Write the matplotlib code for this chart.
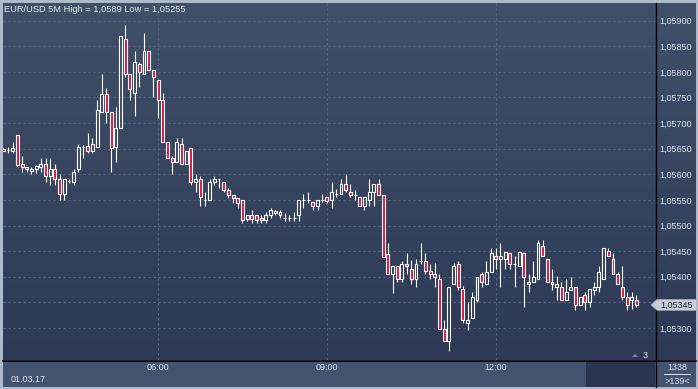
import numpy as np
import pandas as pd
import matplotlib
matplotlib.use("Agg")
import matplotlib.pyplot as plt
from matplotlib.patches import Rectangle, Polygon
from matplotlib.colors import LinearSegmentedColormap

# ---------------- data ----------------
title = "EUR/USD 5M High = 1,0589 Low = 1,05255"
start_time = "2017-03-01 03:15"
date_label = "01.03.17"
bars_label = "1338"
count_label = ">139<"
corner_label = "3"

open_ = [1.05650, 1.05647, 1.05646, 1.05676, 1.05620, 1.05615, 1.05606, 1.05610, 1.05615, 1.05620,
         1.05596, 1.05610, 1.05590, 1.05561, 1.05586, 1.05584, 1.05610, 1.05653, 1.05655, 1.05645,
         1.05654, 1.05721, 1.05756, 1.05721, 1.05654, 1.05690, 1.05865, 1.05795, 1.05759, 1.05815,
         1.05795, 1.05840, 1.05804, 1.05785, 1.05746, 1.05664, 1.05631, 1.05625, 1.05660, 1.05620,
         1.05651, 1.05584, 1.05590, 1.05549, 1.05549, 1.05584, 1.05590, 1.05584, 1.05570, 1.05560,
         1.05554, 1.05550, 1.05513, 1.05520, 1.05520, 1.05515, 1.05510, 1.05520, 1.05529, 1.05520,
         1.05515, 1.05515, 1.05515, 1.05520, 1.05550, 1.05550, 1.05546, 1.05539, 1.05550, 1.05555,
         1.05550, 1.05562, 1.05562, 1.05581, 1.05565, 1.05560, 1.05555, 1.05539, 1.05550, 1.05565,
         1.05581, 1.05560, 1.05444, 1.05406, 1.05420, 1.05395, 1.05425, 1.05415, 1.05395, 1.05430,
         1.05430, 1.05411, 1.05405, 1.05395, 1.05297, 1.05275, 1.05386, 1.05425, 1.05376, 1.05310,
         1.05320, 1.05355, 1.05405, 1.05386, 1.05410, 1.05440, 1.05435, 1.05435, 1.05446, 1.05425,
         1.05420, 1.05446, 1.05386, 1.05390, 1.05395, 1.05460, 1.05435, 1.05390, 1.05379, 1.05379,
         1.05355, 1.05375, 1.05379, 1.05345, 1.05364, 1.05351, 1.05375, 1.05379, 1.05395, 1.05451,
         1.05435, 1.05405, 1.05379, 1.05360, 1.05355, 1.05355]
high = [1.05651, 1.05654, 1.05664, 1.05677, 1.05636, 1.05615, 1.05615, 1.05619, 1.05632, 1.05632,
        1.05632, 1.05620, 1.05601, 1.05590, 1.05590, 1.05611, 1.05660, 1.05657, 1.05680, 1.05670,
        1.05746, 1.05795, 1.05768, 1.05721, 1.05731, 1.05871, 1.05891, 1.05795, 1.05840, 1.05820,
        1.05875, 1.05840, 1.05804, 1.05785, 1.05758, 1.05664, 1.05635, 1.05670, 1.05670, 1.05646,
        1.05651, 1.05601, 1.05596, 1.05565, 1.05590, 1.05596, 1.05590, 1.05584, 1.05574, 1.05560,
        1.05554, 1.05550, 1.05521, 1.05530, 1.05520, 1.05520, 1.05526, 1.05535, 1.05530, 1.05530,
        1.05524, 1.05520, 1.05526, 1.05550, 1.05562, 1.05565, 1.05546, 1.05550, 1.05561, 1.05555,
        1.05584, 1.05571, 1.05590, 1.05600, 1.05581, 1.05570, 1.05555, 1.05555, 1.05590, 1.05581,
        1.05590, 1.05560, 1.05465, 1.05420, 1.05420, 1.05430, 1.05446, 1.05433, 1.05435, 1.05465,
        1.05446, 1.05425, 1.05426, 1.05405, 1.05316, 1.05379, 1.05426, 1.05431, 1.05381, 1.05351,
        1.05370, 1.05400, 1.05410, 1.05431, 1.05456, 1.05456, 1.05466, 1.05449, 1.05446, 1.05440,
        1.05449, 1.05446, 1.05405, 1.05431, 1.05471, 1.05471, 1.05435, 1.05415, 1.05401, 1.05390,
        1.05395, 1.05399, 1.05379, 1.05360, 1.05370, 1.05375, 1.05390, 1.05420, 1.05456, 1.05456,
        1.05446, 1.05410, 1.05420, 1.05371, 1.05371, 1.05364]
low = [1.05645, 1.05641, 1.05642, 1.05615, 1.05605, 1.05605, 1.05601, 1.05603, 1.05605, 1.05584,
       1.05580, 1.05580, 1.05549, 1.05549, 1.05583, 1.05580, 1.05605, 1.05631, 1.05641, 1.05641,
       1.05654, 1.05721, 1.05701, 1.05605, 1.05625, 1.05690, 1.05790, 1.05746, 1.05714, 1.05771,
       1.05795, 1.05804, 1.05750, 1.05710, 1.05664, 1.05631, 1.05600, 1.05625, 1.05620, 1.05620,
       1.05580, 1.05565, 1.05539, 1.05539, 1.05549, 1.05580, 1.05574, 1.05565, 1.05554, 1.05544,
       1.05535, 1.05504, 1.05508, 1.05504, 1.05504, 1.05504, 1.05504, 1.05515, 1.05520, 1.05515,
       1.05509, 1.05509, 1.05509, 1.05509, 1.05535, 1.05544, 1.05530, 1.05530, 1.05546, 1.05544,
       1.05535, 1.05555, 1.05562, 1.05565, 1.05555, 1.05550, 1.05539, 1.05530, 1.05539, 1.05539,
       1.05560, 1.05439, 1.05406, 1.05369, 1.05389, 1.05389, 1.05406, 1.05385, 1.05380, 1.05425,
       1.05406, 1.05395, 1.05379, 1.05297, 1.05275, 1.05255, 1.05386, 1.05375, 1.05310, 1.05296,
       1.05320, 1.05351, 1.05379, 1.05386, 1.05410, 1.05415, 1.05379, 1.05415, 1.05415, 1.05379,
       1.05420, 1.05340, 1.05370, 1.05390, 1.05395, 1.05440, 1.05390, 1.05375, 1.05355, 1.05355,
       1.05355, 1.05375, 1.05335, 1.05345, 1.05335, 1.05340, 1.05364, 1.05370, 1.05395, 1.05440,
       1.05405, 1.05386, 1.05355, 1.05335, 1.05337, 1.05340]
close = [1.05646, 1.05647, 1.05651, 1.05619, 1.05615, 1.05610, 1.05610, 1.05616, 1.05620, 1.05596,
         1.05610, 1.05590, 1.05561, 1.05590, 1.05586, 1.05605, 1.05654, 1.05653, 1.05645, 1.05660,
         1.05725, 1.05756, 1.05721, 1.05651, 1.05690, 1.05871, 1.05795, 1.05766, 1.05820, 1.05800,
         1.05840, 1.05804, 1.05790, 1.05746, 1.05664, 1.05631, 1.05625, 1.05664, 1.05620, 1.05646,
         1.05584, 1.05590, 1.05556, 1.05549, 1.05584, 1.05590, 1.05590, 1.05570, 1.05560, 1.05554,
         1.05544, 1.05510, 1.05520, 1.05513, 1.05510, 1.05510, 1.05520, 1.05530, 1.05525, 1.05526,
         1.05515, 1.05515, 1.05515, 1.05550, 1.05550, 1.05550, 1.05539, 1.05550, 1.05550, 1.05548,
         1.05565, 1.05562, 1.05581, 1.05570, 1.05560, 1.05560, 1.05539, 1.05555, 1.05565, 1.05581,
         1.05560, 1.05439, 1.05406, 1.05420, 1.05395, 1.05425, 1.05420, 1.05395, 1.05425, 1.05430,
         1.05411, 1.05406, 1.05400, 1.05297, 1.05275, 1.05379, 1.05420, 1.05379, 1.05316, 1.05316,
         1.05360, 1.05400, 1.05390, 1.05410, 1.05446, 1.05435, 1.05440, 1.05449, 1.05425, 1.05425,
         1.05449, 1.05399, 1.05390, 1.05399, 1.05466, 1.05440, 1.05390, 1.05386, 1.05386, 1.05355,
         1.05370, 1.05379, 1.05345, 1.05360, 1.05351, 1.05375, 1.05379, 1.05410, 1.05456, 1.05440,
         1.05405, 1.05386, 1.05360, 1.05345, 1.05360, 1.05345]
price_ticks = [1.0530, 1.0535, 1.0540, 1.0545, 1.0550, 1.0555, 1.0560, 1.0565,
               1.0570, 1.0575, 1.0580, 1.0585, 1.0590]
time_tick_labels = ["06:00", "09:00", "12:00"]

# ---------------- style ----------------
W, H = 698, 389
FRAME = "#aeb9ca"
TOP_BG = "#405069"
BOT_BG = "#2d3955"
BAR_BG = "#43526f"
DARK_BOX = "#29344e"
GRID = "#56657f"
RED = "#e3113b"
TXT = "#dfe6f0"
FONT = "Liberation Sans"
FS = 6.5

o = np.array(open_); h = np.array(high); l = np.array(low); c = np.array(close)
n = len(o)
times = pd.date_range(start_time, periods=n, freq="5min")
x = np.arange(n)

fig = plt.figure(figsize=(W / 100, H / 100), dpi=100)
fig.patch.set_facecolor(FRAME)

def rect(x0, y0, x1, y1):
    return [x0 / W, 1 - y1 / H, (x1 - x0) / W, (y1 - y0) / H]

# canvas in pixel coordinates
cv = fig.add_axes([0, 0, 1, 1], zorder=0)
cv.set_xlim(0, W); cv.set_ylim(H, 0); cv.axis("off")
cmap = LinearSegmentedColormap.from_list("bg", [TOP_BG, BOT_BG])
grad = np.linspace(0, 1, 256).reshape(-1, 1)
cv.imshow(grad, cmap=cmap, aspect="auto", extent=(3, 696, 360, 3), origin="upper")
cv.add_patch(Rectangle((3, 361), 693, 26, facecolor=BAR_BG, edgecolor="none"))
cv.add_patch(Rectangle((586, 361), 69, 26, facecolor=DARK_BOX, edgecolor="none"))
cv.plot([3, 696], [360.5, 360.5], color="black", lw=1.2)
cv.plot([655.5, 655.5], [3, 387], color="black", lw=1.0)

# main candle axes
ax = fig.add_axes(rect(3, 3, 655, 360), zorder=1)
ax.patch.set_alpha(0)
step = 4.69
x_left = (3 - 3.3) / step
x_right = (655 - 3.3) / step
ax.set_xlim(x_left, x_right)
pix_per_unit = 25.6 / 0.0005
ax.set_ylim(1.0590 - (360 - 20.7) / pix_per_unit, 1.0590 + (20.7 - 3) / pix_per_unit)
for s in ax.spines.values():
    s.set_visible(False)

# grid
ax.set_yticks(price_ticks)
tick_idx = [i for i, t in enumerate(times) if t.strftime("%H:%M") in time_tick_labels]
ax.set_xticks(tick_idx)
ax.set_xticklabels([])
ax.grid(True, color=GRID, lw=0.8, linestyle=(0, (2, 2.5)))
ax.tick_params(length=0)
ax.yaxis.tick_right()
last = c[-1]
ax.set_yticklabels(["" if abs(p - last) < 0.0002 else f"{p:.5f}".replace(".", ",") for p in price_ticks],
                   fontsize=FS, color=TXT, family=FONT)
ax.tick_params(axis="y", pad=3)

# candles
bw = 0.62
up = c >= o
top = np.maximum(o, c); bot = np.minimum(o, c)
ax.vlines(x, top, h, color="white", lw=0.8, zorder=2)
ax.vlines(x, l, bot, color="white", lw=0.8, zorder=2)
for i in range(n):
    ax.add_patch(Rectangle((x[i] - bw / 2, bot[i]), bw, top[i] - bot[i],
                           facecolor="none" if up[i] else RED,
                           edgecolor="white", lw=0.8, zorder=3))

# overlay texts
ov = fig.add_axes([0, 0, 1, 1], zorder=3)
ov.set_xlim(0, W); ov.set_ylim(H, 0); ov.axis("off"); ov.patch.set_alpha(0)
ov.text(4, 9, title, fontsize=6.7, color="#e6eaf0", va="center", ha="left", family=FONT)
for lab, idx in zip(time_tick_labels, tick_idx):
    ov.text(3.3 + step * idx, 368, lab, fontsize=FS, color=TXT, ha="center", va="center", family=FONT)
ov.text(11, 379, date_label, fontsize=FS, color=TXT, ha="left", va="center", family=FONT)
ov.text(677, 367, bars_label, fontsize=FS, color=TXT, ha="center", va="center", family=FONT)
ov.plot([664, 690], [374, 374], color=TXT, lw=0.7)
ov.text(677, 381, count_label, fontsize=FS, color=TXT, ha="center", va="center", family=FONT)
ov.text(645, 355, corner_label, fontsize=FS, color=TXT, ha="center", va="center", family=FONT)
ov.add_patch(Polygon([(632, 357), (635, 354), (638, 357)], closed=True, facecolor="#7d8aa0", edgecolor="none"))
# last price box
y_last = 20.7 + (1.0590 - last) * pix_per_unit
ov.add_patch(Polygon([(651, y_last), (657, y_last - 5.5), (697, y_last - 5.5), (697, y_last + 5.5), (657, y_last + 5.5)],
                     closed=True, facecolor="#c8cdd6", edgecolor="#9aa3b3", lw=0.5))
ov.text(677, y_last, f"{last:.5f}".replace(".", ","), fontsize=FS, color="#1c2333",
        ha="center", va="center", family=FONT)

fig.savefig("out.png", dpi=100, facecolor=FRAME)
